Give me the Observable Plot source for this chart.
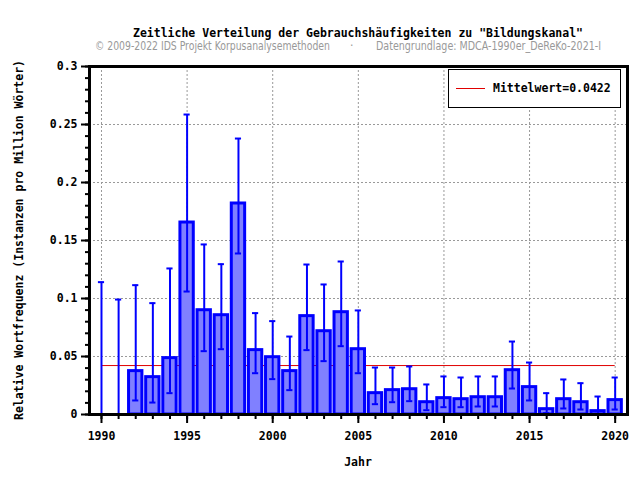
<!DOCTYPE html>
<html>
<head>
<meta charset="utf-8">
<script src="https://cdn.jsdelivr.net/npm/d3@7"></script>
<script src="https://cdn.jsdelivr.net/npm/@observablehq/plot@0.6"></script>
<style>
  html, body { margin: 0; padding: 0; background: #fff; }
  #wrap { position: relative; width: 640px; height: 480px; overflow: hidden; background: #fff; }
  .mono { font-family: "DejaVu Sans Mono", monospace; font-weight: bold; font-size: 11.5px; color: #000; line-height: 13px; white-space: nowrap; }
  #title { position: absolute; left: 89px; width: 538px; top: 27px; text-align: center; }
  .sub { position: absolute; top: 40px; font-family: "DejaVu Sans Condensed", "Liberation Sans", sans-serif;
         font-size: 12px; color: #999; line-height: 13px; white-space: nowrap; transform-origin: 0 0; }
  #chart { position: absolute; left: 0; top: 52px; }
  #xlabel { position: absolute; left: 89px; width: 538px; top: 456px; text-align: center; }
  #ylabel { position: absolute; left: 19px; top: 240px; width: 0; height: 0; }
  #ylabel span { position: absolute; left: 0; top: 0; transform: translate(-50%, -50%) rotate(-90deg); }
  #legend { position: absolute; left: 448px; top: 69px; width: 171px; height: 37px; border: 1px solid #000; background: #fff; }
  #legend .sw { position: absolute; left: 7px; top: 18px; width: 29px; height: 0; border-top: 1px solid #e00000; }
  #legend .lt { position: absolute; left: 44px; top: 12px; }
</style>
</head>
<body>
<div id="wrap">
  <div id="title" class="mono"></div>
  <span class="sub" id="sub1" style="left:95px"></span>
  <span class="sub" id="sub2" style="left:350px"></span>
  <span class="sub" id="sub3" style="left:376px"></span>
  <div id="chart"></div>
  <div id="xlabel" class="mono"></div>
  <div id="ylabel" class="mono"><span id="ylabelText"></span></div>
  <div id="legend" class="mono"><div class="sw"></div><div class="lt" id="legendText"></div></div>
</div>
<script>
const titleText = "Zeitliche Verteilung der Gebrauchshäufigkeiten zu \"Bildungskanal\"";
const subtitleLeft = "© 2009-2022 IDS Projekt Korpusanalysemethoden";
const subtitleDot = "·";
const subtitleRight = "Datengrundlage: MDCA-1990er_DeReKo-2021-I";
const xLabel = "Jahr";
const yLabel = "Relative Wortfrequenz (Instanzen pro Million Wörter)";
const meanLabel = "Mittelwert=0.0422";

const years = [1990,1991,1992,1993,1994,1995,1996,1997,1998,1999,2000,2001,2002,2003,2004,2005,2006,2007,2008,2009,2010,2011,2012,2013,2014,2015,2016,2017,2018,2019,2020];
const values = [0,0,0.0374,0.0322,0.0486,0.1655,0.0899,0.0856,0.1819,0.0555,0.0494,0.0374,0.0848,0.0718,0.0882,0.0563,0.0184,0.0210,0.0218,0.0106,0.0141,0.0132,0.0149,0.0149,0.0382,0.0236,0.0046,0.0132,0.0106,0.0029,0.0124];
const upper = [0.1141,0.0991,0.1115,0.0960,0.1259,0.2586,0.1466,0.1296,0.2379,0.0874,0.0805,0.0672,0.1293,0.1121,0.1319,0.0897,0.0405,0.0405,0.0414,0.0259,0.0328,0.0319,0.0328,0.0328,0.0629,0.0448,0.0184,0.0302,0.0270,0.0155,0.0319];
const lower = [0,0,0.0121,0.0103,0.0184,0.1060,0.0546,0.0563,0.1388,0.0356,0.0305,0.0210,0.0555,0.0460,0.0589,0.0356,0.0089,0.0106,0.0115,0.0037,0.0063,0.0063,0.0069,0.0069,0.0224,0.0121,0.0012,0.0052,0.0043,0.0006,0.0043];
const meanValue = 0.0422;
const xMajorTicks = [1990,1995,2000,2005,2010,2015,2020];
const yMajorTicks = [0,0.05,0.1,0.15,0.2,0.25,0.3];
const yMinorTicks = d3.range(0, 31).map(i => i / 100);
const xGrid = [1990,1995,2000,2005,2010,2015,2020];
const yGrid = [0.05,0.1,0.15,0.2,0.25];

document.getElementById("title").textContent = titleText;
document.getElementById("sub1").textContent = subtitleLeft;
document.getElementById("sub2").textContent = subtitleDot;
document.getElementById("sub3").textContent = subtitleRight;
document.getElementById("xlabel").textContent = xLabel;
document.getElementById("ylabelText").textContent = yLabel;
document.getElementById("legendText").textContent = meanLabel;

// squeeze the narrow subtitle font to the reference widths
function fitWidth(id, w) {
  const el = document.getElementById(id);
  const cur = el.getBoundingClientRect().width;
  if (cur > 0) el.style.transform = `scaleX(${w / cur})`;
}
fitWidth("sub1", 235);
fitWidth("sub3", 225);

const data = years.map((year, i) => ({year, value: values[i], hi: upper[i], lo: lower[i]}));
const bars = data.filter(d => d.value > 0);
const meanLine = [{from: years[0], to: years[years.length - 1], value: meanValue}];

const blue = "#0000ff";
const halfBar = 0.39;
const halfCap = 0.18;

const chart = Plot.plot({
  width: 640,
  height: 428,
  marginTop: 14,
  marginBottom: 66,
  marginLeft: 89,
  marginRight: 13,
  style: {fontFamily: "DejaVu Sans Mono, monospace", fontWeight: "bold", fontSize: "11.5px", color: "#000", background: "transparent"},
  x: {domain: [1989.3, 2020.72]},
  y: {domain: [0, 0.3]},
  marks: [
    Plot.ruleX(xGrid, {stroke: "#999", strokeDasharray: "2,2", strokeWidth: 1}),
    Plot.ruleY(yGrid, {stroke: "#999", strokeDasharray: "2,2", strokeWidth: 1}),
    Plot.ruleY(meanLine, {y: "value", x1: "from", x2: "to", stroke: "#e00000", strokeWidth: 1}),
    Plot.rectY(bars, {x1: d => d.year - halfBar, x2: d => d.year + halfBar, y1: 0, y2: "value", fill: "#8080ff", stroke: blue, strokeWidth: 3}),
    Plot.ruleX(data, {x: "year", y1: "lo", y2: "hi", stroke: blue, strokeWidth: 2}),
    Plot.ruleY(data, {y: "hi", x1: d => d.year - halfCap, x2: d => d.year + halfCap, stroke: blue, strokeWidth: 2}),
    Plot.ruleY(data, {y: "lo", x1: d => d.year - halfCap, x2: d => d.year + halfCap, stroke: blue, strokeWidth: 2}),
    Plot.axisX(years, {tickSize: 5, strokeWidth: 2, tickFormat: () => "", label: null}),
    Plot.axisX(xMajorTicks, {tickSize: 9, strokeWidth: 2, tickPadding: 8, tickFormat: d => String(d), label: null}),
    Plot.axisY(yMinorTicks, {tickSize: 4, strokeWidth: 2, tickFormat: () => "", label: null}),
    Plot.axisY(yMajorTicks, {tickSize: 8, strokeWidth: 2, tickPadding: 4, tickFormat: d => String(d), label: null}),
    Plot.frame({stroke: "#000", strokeWidth: 3})
  ]
});
document.getElementById("chart").appendChild(chart);
</script>
</body>
</html>
